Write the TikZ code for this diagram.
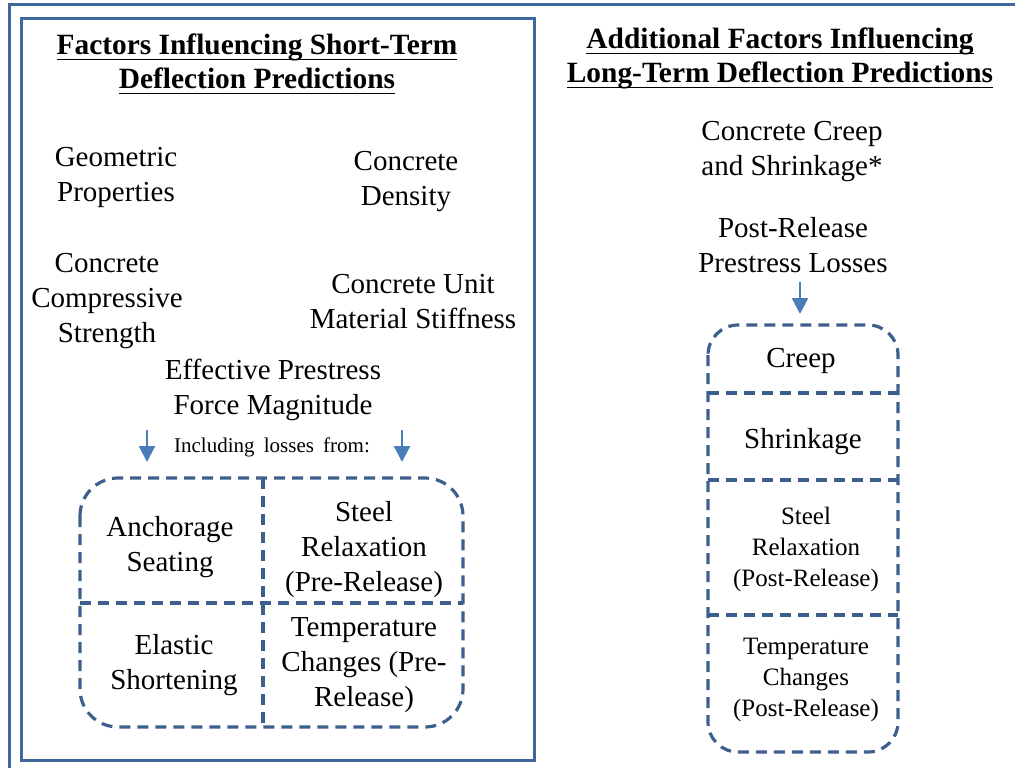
\documentclass[tikz,border=0pt]{standalone}
\usepackage{fontspec}
\setmainfont{Liberation Serif}
\usetikzlibrary{arrows.meta}
\definecolor{framecol}{HTML}{3F679C}
\definecolor{dashcol}{HTML}{3D5F8E}
\definecolor{arrowcol}{HTML}{4A7EBB}
\newsavebox{\ulbox}
\newcommand{\ulbar}[1]{\sbox{\ulbox}{#1}\rlap{\rule[-6pt]{\wd\ulbox}{1.6pt}}\usebox{\ulbox}}

\begin{document}
\begin{tikzpicture}[x=1pt,y=-1pt,
        txt/.style={align=center,inner sep=0pt,font=\fontsize{29}{35}\selectfont},
        smalltxt/.style={align=center,inner sep=0pt,font=\fontsize{25}{31}\selectfont},
        ttl/.style={align=center,inner sep=0pt,font=\bfseries\fontsize{29.4}{34}\selectfont},
        dashbox/.style={draw=dashcol,line width=3.2pt,dash pattern=on 11pt off 7pt},
        flowarrow/.style={draw=arrowcol,line width=2.4pt,-{Triangle[width=16pt,length=16pt]}},
        framebox/.style={draw=framecol,line width=3pt}]
        \useasboundingbox (0,0) rectangle (1015,768);
        \draw[framebox] (9,768) -- (9,5) -- (1015,5);
        \draw[framebox] (21,19) rectangle (534,760);

        \node (titleshort) [ttl] at (257,64) {\ulbar{Factors Influencing Short-Term}\\\ulbar{Deflection Predictions}};
        \node (titlelong) [ttl] at (780,58) {\ulbar{Additional Factors Influencing}\\\ulbar{Long-Term Deflection Predictions}};

        \node (geom) [txt] at (116,177) {Geometric\\Properties};
        \node (density) [txt] at (406,182) {Concrete\\Density};
        \node (strength) [txt] at (107,301) {Concrete\\Compressive\\Strength};
        \node (stiffness) [txt] at (413,302) {Concrete Unit\\Material Stiffness};
        \node (prestress) [txt] at (273,390) {Effective Prestress\\Force Magnitude};
        \node (losses) [inner sep=0pt,font=\fontsize{21}{25}\selectfont] at (272,447) {Including\hspace{4pt} losses\hspace{4pt} from:};

        \coordinate (arrLa) at (147,430);
        \coordinate (arrLb) at (147,462);
        \coordinate (arrRa) at (402,430);
        \coordinate (arrRb) at (402,462);
        \draw[flowarrow] (arrLa) -- (arrLb);
        \draw[flowarrow] (arrRa) -- (arrRb);

        \draw[dashbox,rounded corners=38pt] (80,478) rectangle (463,727);
        \draw[dashbox] (263,478) -- (263,727);
        \draw[dashbox] (80,603) -- (463,603);
        \node (anchseat) [txt] at (170,547) {Anchorage\\Seating};
        \node (relaxpre) [txt] at (364,550) {Steel\\Relaxation\\(Pre-Release)};
        \node (elastic) [txt] at (174,665) {Elastic\\Shortening};
        \node (temppre) [txt] at (364,665) {Temperature\\Changes (Pre-\\Release)};

        \node (creepshr) [txt] at (792,152) {Concrete Creep\\and Shrinkage*};
        \node (postrel) [txt] at (793,245) {Post-Release\\Prestress Losses};
        \coordinate (arrPa) at (800,282);
        \coordinate (arrPb) at (800,314);
        \draw[flowarrow] (arrPa) -- (arrPb);

        \draw[dashbox,rounded corners=30pt] (708,325) rectangle (898,752);
        \draw[dashbox] (708,393) -- (898,393);
        \draw[dashbox] (708,480) -- (898,480);
        \draw[dashbox] (708,615) -- (898,615);
        \node (creep) [txt] at (801,361) {Creep};
        \node (shrink) [txt] at (803,442) {Shrinkage};
        \node (relaxpost) [smalltxt] at (806,549) {Steel\\Relaxation\\(Post-Release)};
        \node (temppost) [smalltxt] at (806,680) {Temperature\\Changes\\(Post-Release)};
\end{tikzpicture}
\end{document}
